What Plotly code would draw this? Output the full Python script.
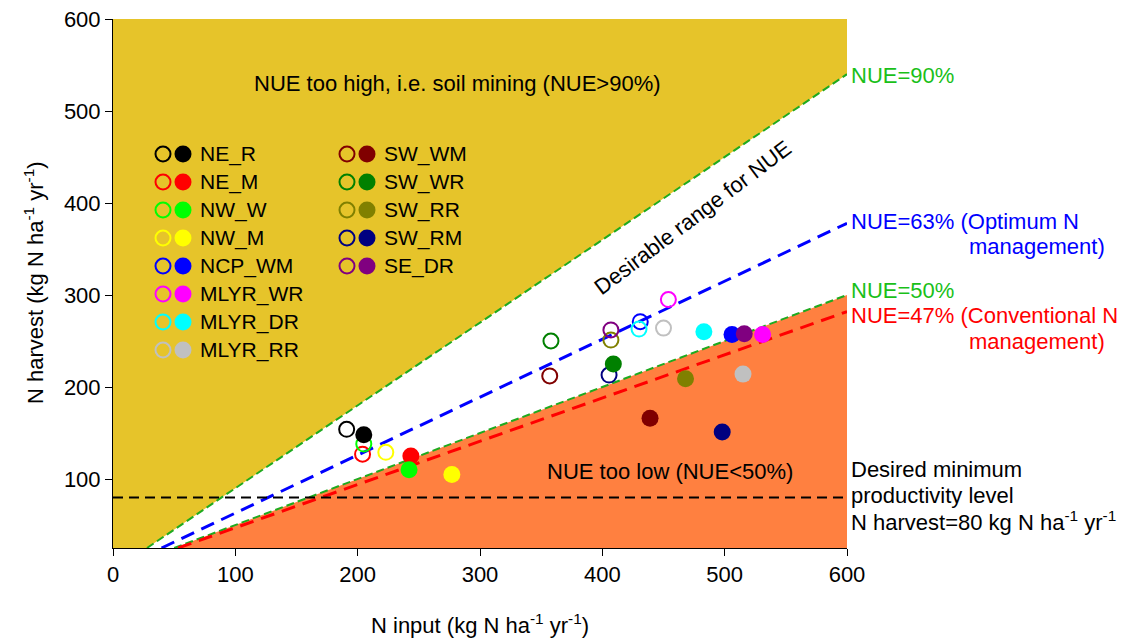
import plotly.graph_objects as go

# ---------------- data ----------------
regions = ["NE_R", "NE_M", "NW_W", "NW_M", "NCP_WM", "MLYR_WR", "MLYR_DR", "MLYR_RR",
           "SW_WM", "SW_WR", "SW_RR", "SW_RM", "SE_DR"]
colors = ["#000000", "#FF0000", "#00FF00", "#FFFF00", "#0000FF", "#FF00FF", "#00FFFF", "#C0C0C0",
          "#800000", "#008000", "#808000", "#000080", "#800080"]
# open circles
open_x = [191, 204, 205, 223, 431, 454, 430, 450, 357, 358, 407, 405.5, 407]
open_y = [154, 127, 138, 129, 271, 295, 263, 264, 212, 250, 251, 213, 262]
# filled circles
fill_x = [205, 243.5, 242, 277, 506, 531, 483, 515, 439, 409, 468, 498, 516]
fill_y = [148, 125, 110, 105, 257, 257, 260, 214, 166, 225, 209, 151, 258]

nue_lines = [0.90, 0.63, 0.50, 0.47]
min_harvest = 80
x_ticks = [0, 100, 200, 300, 400, 500, 600]
y_ticks = [100, 200, 300, 400, 500, 600]
XMAX, YMIN, YMAX = 600, 25, 600

FONT = "Liberation Sans, Arial, sans-serif"
FS = 22
GOLD = "#E6C42A"
ORANGE = "#FF8040"
GREEN_LINE = "#1FAA1F"
GREEN_TXT = "#19C019"

# page offset (default body margin) and plot-area geometry in window pixels
OFF = 8
FIG_W, FIG_H = 1127 - OFF, 639 - OFF
L, R, T, B = 113 - OFF, 847 - OFF, 19 - OFF, 548 - OFF
W_PA, H_PA = R - L, B - T

def px(xp):
    return (xp - OFF - L) / W_PA

def py(yp):
    return (B - (yp - OFF)) / H_PA

fig = go.Figure()

# gold region: NUE > 90%
x90 = YMIN / 0.90
fig.add_trace(go.Scatter(x=[0, x90, XMAX, XMAX, 0], y=[YMIN, YMIN, 0.90 * XMAX, YMAX, YMAX],
                         fill="toself", fillcolor=GOLD, line=dict(width=0), mode="lines",
                         hoverinfo="skip", showlegend=False))
# orange region: NUE < 50%
x50 = YMIN / 0.50
fig.add_trace(go.Scatter(x=[x50, XMAX, XMAX, x50], y=[YMIN, 0.50 * XMAX, YMIN, YMIN],
                         fill="toself", fillcolor=ORANGE, line=dict(width=0), mode="lines",
                         hoverinfo="skip", showlegend=False))

# NUE lines
line_styles = {0.90: (GREEN_LINE, 2, "8px,4px"), 0.63: ("#0000FF", 3, "14px,8px"),
               0.50: (GREEN_LINE, 2, "8px,4px"), 0.47: ("#FF0000", 3, "14px,8px")}
for k in nue_lines:
    c, w, d = line_styles[k]
    fig.add_trace(go.Scatter(x=[YMIN / k, XMAX], y=[YMIN, k * XMAX], mode="lines",
                             line=dict(color=c, width=w, dash=d), hoverinfo="skip", showlegend=False))

# minimum productivity
fig.add_trace(go.Scatter(x=[0, XMAX], y=[min_harvest, min_harvest], mode="lines",
                         line=dict(color="black", width=2, dash="10px,6px"),
                         hoverinfo="skip", showlegend=False))

# data points
for i, r in enumerate(regions):
    fig.add_trace(go.Scatter(x=[open_x[i]], y=[open_y[i]], mode="markers", name=r,
                             marker=dict(symbol="circle-open", size=15, color=colors[i],
                                         line=dict(width=2, color=colors[i])), showlegend=False))
for i, r in enumerate(regions):
    fig.add_trace(go.Scatter(x=[fill_x[i]], y=[fill_y[i]], mode="markers", name=r,
                             marker=dict(symbol="circle", size=17, color=colors[i], line=dict(width=0)),
                             showlegend=False))

# custom legend (on a hidden overlay axis spanning paper coordinates)
col_open_x = [px(163), px(347)]
col_fill_x = [px(183), px(367)]
col_text_x = [px(198), px(382)]
rows_per_col = 8
for i, r in enumerate(regions):
    col, row = divmod(i, rows_per_col)
    yy = py(154 + 28 * row)
    fig.add_trace(go.Scatter(x=[col_open_x[col]], y=[yy], xaxis="x2", yaxis="y2", mode="markers",
                             marker=dict(symbol="circle-open", size=15, color=colors[i],
                                         line=dict(width=2, color=colors[i])),
                             hoverinfo="skip", showlegend=False))
    fig.add_trace(go.Scatter(x=[col_fill_x[col]], y=[yy], xaxis="x2", yaxis="y2", mode="markers",
                             marker=dict(symbol="circle", size=17, color=colors[i], line=dict(width=0)),
                             hoverinfo="skip", showlegend=False))
    fig.add_annotation(x=col_text_x[col], y=yy, xref="paper", yref="paper", text=r,
                       showarrow=False, xanchor="left", yanchor="middle",
                       font=dict(size=21, color="black", family=FONT))

# region labels
fig.add_annotation(x=282, y=530, text="NUE too high, i.e. soil mining (NUE>90%)", showarrow=False,
                   font=dict(size=FS, color="black", family=FONT))
fig.add_annotation(x=455, y=108, text="NUE too low (NUE<50%)", showarrow=False,
                   font=dict(size=FS, color="black", family=FONT))
fig.add_annotation(x=474, y=384, text="Desirable range for NUE", showarrow=False, textangle=-37,
                   font=dict(size=FS, color="black", family=FONT))

# right-hand labels (paper x beyond plot)
def right_label(xp, yp, text, color):
    fig.add_annotation(x=px(xp), y=py(yp), xref="paper", yref="paper",
                       text=text, showarrow=False, xanchor="left", yanchor="middle",
                       font=dict(size=FS, color=color, family=FONT))

right_label(849, 75, "NUE=90%", GREEN_TXT)
right_label(849, 221, "NUE=63% (Optimum N", "#0000FF")
right_label(967, 246, "management)", "#0000FF")
right_label(849, 290, "NUE=50%", GREEN_TXT)
right_label(849, 315, "NUE=47% (Conventional N", "#FF0000")
right_label(967, 341, "management)", "#FF0000")
right_label(849, 469, "Desired minimum", "black")
right_label(849, 495, "productivity level", "black")
right_label(849, 521, "N harvest=80 kg N ha<sup>-1</sup> yr<sup>-1</sup>", "black")

# axis titles
fig.add_annotation(x=px(480), y=py(624), xref="paper", yref="paper", showarrow=False,
                   text="N input (kg N ha<sup>-1</sup> yr<sup>-1</sup>)", xanchor="center", yanchor="middle",
                   font=dict(size=FS, color="black", family=FONT))
fig.add_annotation(x=px(34), y=py(283), xref="paper", yref="paper", showarrow=False, textangle=-90,
                   text="N harvest (kg N ha<sup>-1</sup> yr<sup>-1</sup>)", xanchor="center", yanchor="middle",
                   font=dict(size=FS, color="black", family=FONT))

fig.update_layout(
    width=FIG_W, height=FIG_H,
    margin=dict(l=L, r=FIG_W - R, t=T, b=FIG_H - B, autoexpand=False),
    plot_bgcolor="white", paper_bgcolor="white",
    showlegend=False,
    font=dict(family=FONT, size=FS, color="black"),
    xaxis=dict(range=[0, XMAX], tickvals=x_ticks, showgrid=False, zeroline=False, automargin=False,
               showline=True, linecolor="black", linewidth=1, ticks="outside", ticklen=7,
               tickcolor="black", tickfont=dict(size=FS, family=FONT), ticklabeloverflow="allow"),
    yaxis=dict(range=[YMIN, YMAX], tickvals=y_ticks, showgrid=False, zeroline=False, automargin=False,
               showline=True, linecolor="black", linewidth=1, ticks="outside", ticklen=7,
               tickcolor="black", tickfont=dict(size=FS, family=FONT), ticklabeloverflow="allow"),
    xaxis2=dict(range=[0, 1], overlaying="x", visible=False, fixedrange=True),
    yaxis2=dict(range=[0, 1], overlaying="y", visible=False, fixedrange=True),
)

fig.write_html("out.html")
